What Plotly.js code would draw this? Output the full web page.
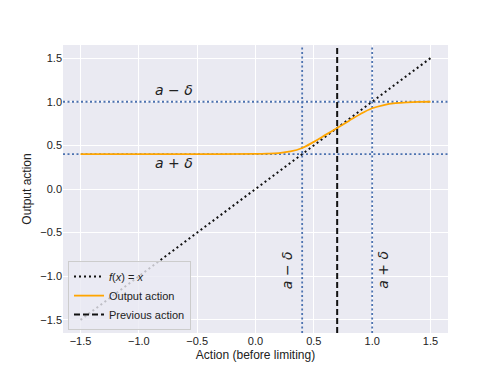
<!DOCTYPE html>
<html><head><meta charset="utf-8">
<script src="https://cdn.plot.ly/plotly-3.0.1.min.js"></script>
<style>body{margin:0;background:#fff}#c{width:498px;height:374px}</style>
</head><body><div id="c"></div>
<script>
// identity line
const identX = [-1.5, 1.5];
const identY = [-1.5, 1.5];
// output action
const outX = [-1.5, -1.0, -0.5, 0.0, 0.1, 0.2, 0.3, 0.4, 0.5, 0.6, 0.7, 0.8, 0.9, 1.0, 1.1, 1.2, 1.3, 1.4, 1.5];
const outY = [0.40, 0.40, 0.40, 0.402, 0.405, 0.412, 0.43, 0.47, 0.54, 0.62, 0.70, 0.78, 0.86, 0.925, 0.962, 0.983, 0.993, 0.998, 1.0];
const prevAction = 0.7;
const lowerBound = 0.4;
const upperBound = 1.0;
const axisRange = [-1.65, 1.65];
const tickVals = [-1.5, -1.0, -0.5, 0.0, 0.5, 1.0, 1.5];
const tickText = ["\u22121.5", "\u22121.0", "\u22120.5", "0.0", "0.5", "1.0", "1.5"];

const blue = '#4c72b0';
const traces = [];
[lowerBound, upperBound].forEach(v => {
  traces.push({x: axisRange, y: [v, v], mode: 'lines', showlegend: false, hoverinfo: 'skip',
    line: {color: blue, dash: '2px,2.5px', width: 1.8}});
  traces.push({x: [v, v], y: axisRange, mode: 'lines', showlegend: false, hoverinfo: 'skip',
    line: {color: blue, dash: '2px,2.5px', width: 1.8}});
});
traces.push(
  {x: identX, y: identY, mode: 'lines', name: '<i>f</i>(<i>x</i>) = <i>x</i>',
   line: {color: '#111', dash: '2px,3px', width: 2}},
  {x: outX, y: outY, mode: 'lines', name: 'Output action', line: {color: '#ffa500', width: 1.8, shape: 'spline'}},
  {x: [prevAction, prevAction], y: axisRange, mode: 'lines', name: 'Previous action',
   line: {color: '#111', dash: '6px,3px', width: 2}}
);
const mfont = {family: 'DejaVu Sans', size: 14, color: '#222'};
const annotations = [
  {x: -0.70, y: 1.14, text: '<i>a</i> \u2212 <i>\u03b4</i>', showarrow: false, font: mfont},
  {x: -0.70, y: 0.30, text: '<i>a</i> + <i>\u03b4</i>', showarrow: false, font: mfont},
  {x: 0.27, y: -0.93, text: '<i>a</i> \u2212 <i>\u03b4</i>', showarrow: false, font: mfont, textangle: -90},
  {x: 1.09, y: -0.93, text: '<i>a</i> + <i>\u03b4</i>', showarrow: false, font: mfont, textangle: -90}
];
const ax = {
  range: axisRange, tickvals: tickVals, ticktext: tickText, showgrid: true, gridcolor: '#fff', gridwidth: 1,
  zeroline: false, showline: false, ticks: '', tickfont: {family: 'Liberation Sans', size: 11, color: '#222'}
};
const layout = {
  width: 498, height: 374,
  margin: {l: 63, r: 50, t: 45, b: 41},
  paper_bgcolor: '#fff', plot_bgcolor: '#eaeaf2',
  font: {family: 'Liberation Sans', size: 12, color: '#222'},
  xaxis: Object.assign({}, ax, {title: {text: 'Action (before limiting)', font: {size: 12}, standoff: 4}}),
  yaxis: Object.assign({}, ax, {title: {text: 'Output action', font: {size: 12}, standoff: 6}}),
  showlegend: true,
  legend: {x: 0.013, y: 0.01, xanchor: 'left', yanchor: 'bottom', bgcolor: 'rgba(234,234,242,0.8)',
    bordercolor: '#ccc', borderwidth: 1, font: {family: 'Liberation Sans', size: 11, color: '#222'},
    tracegroupgap: 0, itemwidth: 30},
  annotations: annotations
};
Plotly.newPlot('c', traces, layout, {displayModeBar: false, staticPlot: true});
</script></body></html>
